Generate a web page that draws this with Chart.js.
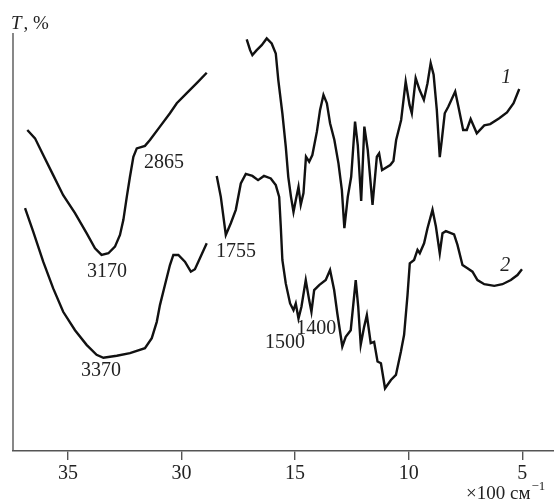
<!DOCTYPE html>
<html>
<head>
<meta charset="utf-8">
<script src="https://cdn.jsdelivr.net/npm/chart.js@4/dist/chart.umd.min.js"></script>
<style>
    html, body { margin: 0; padding: 0; background: #fff; }
</style>
</head>
<body>
<canvas id="ir-chart" width="554" height="501"></canvas>
<script>
// wavenumber in x100 cm^-1, transmittance in %
// curve 1, high wavenumber part
const nu1High = [36.79, 36.45, 36.09, 35.65, 35.21, 34.69, 34.18, 33.81, 33.52, 33.22, 32.93, 32.71, 32.56,
    32.41, 32.27, 32.12, 31.97, 31.61, 31.39, 30.95, 30.51, 30.21, 29.77, 29.33, 28.89];
const t1High = [76.8, 74.8, 70.8, 66.0, 61.2, 56.9, 52.1, 48.5, 46.9, 47.3, 48.9, 51.7, 55.3,
    60.8, 65.6, 70.4, 72.4, 73.0, 74.4, 77.6, 80.8, 83.2, 85.6, 88.0, 90.5];

// curve 1, fingerprint part
const nu1Low = [17.13, 16.98, 16.88, 16.69, 16.47, 16.25, 16.03, 15.85, 15.74, 15.56, 15.41, 15.30, 15.18,
    15.07, 14.97, 14.85, 14.75, 14.63, 14.52, 14.38, 14.24, 14.04, 13.90, 13.75, 13.60, 13.46, 13.27,
    13.09, 12.94, 12.83, 12.68, 12.53, 12.36, 12.24, 12.09, 11.95, 11.80, 11.59, 11.40, 11.30, 11.17,
    10.81, 10.67, 10.55, 10.33, 10.13, 9.96, 9.86, 9.69, 9.52, 9.33, 9.17, 9.03, 8.90, 8.76, 8.63,
    8.54, 8.41, 8.25, 7.95, 7.81, 7.60, 7.44, 7.27, 7.00, 6.67, 6.41, 6.01, 5.67, 5.38, 5.13];
const t1Low = [98.5, 95.9, 94.7, 95.9, 97.1, 98.7, 97.5, 95.1, 88.8, 80.8, 72.8, 65.6, 60.8,
    57.2, 60.0, 63.2, 58.9, 61.7, 70.4, 69.2, 70.8, 76.4, 81.6, 85.2, 83.2, 78.4, 74.4,
    68.8, 62.4, 53.3, 60.8, 65.6, 78.8, 73.2, 59.8, 77.6, 72.0, 58.9, 70.4, 71.2, 67.2,
    68.4, 69.4, 74.4, 79.2, 88.4, 82.8, 80.8, 89.2, 86.4, 84.0, 88.0, 92.8, 90.0, 81.6, 70.3,
    74.4, 80.8, 82.4, 86.0, 82.4, 76.8, 76.8, 79.4, 76.0, 77.9, 78.2, 79.6, 81.0, 83.2, 86.6];

// curve 2, high wavenumber part
const nu2High = [36.89, 36.53, 36.09, 35.65, 35.21, 34.69, 34.18, 33.74, 33.44, 32.85, 32.27, 31.61,
    31.31, 31.09, 30.95, 30.73, 30.51, 30.36, 30.14, 29.85, 29.59, 29.41, 29.19, 28.89];
const t2High = [58.1, 52.5, 45.3, 38.9, 33.3, 28.9, 25.4, 23.0, 22.3, 22.8, 23.4, 24.6,
    27.0, 30.9, 34.9, 39.7, 44.5, 46.9, 46.9, 45.3, 42.9, 43.5, 46.1, 49.7];

// curve 2, fingerprint part
const nu2Low = [18.45, 18.27, 18.05, 17.83, 17.61, 17.39, 17.17, 16.88, 16.63, 16.37, 16.07, 15.85, 15.70,
    15.63, 15.56, 15.41, 15.22, 15.07, 14.97, 14.85, 14.72, 14.53, 14.38, 14.28, 14.16, 13.94, 13.65,
    13.46, 13.28, 13.14, 12.92, 12.77, 12.55, 12.33, 12.22, 12.11, 11.96, 11.84, 11.67, 11.52, 11.37,
    11.22, 11.04, 10.78, 10.56, 10.34, 10.20, 10.05, 9.95, 9.76, 9.61, 9.51, 9.32, 9.17, 8.95, 8.80,
    8.63, 8.51, 8.36, 8.00, 7.85, 7.63, 7.41, 7.19, 6.97, 6.67, 6.23, 5.87, 5.50, 5.21, 5.01];
const t2Low = [65.8, 60.8, 51.7, 54.5, 57.7, 64.0, 66.3, 65.8, 64.8, 65.8, 65.2, 63.6, 60.8,
    53.7, 45.7, 40.1, 35.3, 33.7, 35.3, 31.7, 34.5, 40.9, 36.1, 33.3, 38.5, 39.7, 40.9,
    43.3, 38.5, 32.9, 25.0, 27.3, 28.9, 40.9, 34.5, 25.4, 29.7, 32.5, 25.8, 26.1, 21.4,
    21.0, 15.0, 17.0, 18.2, 23.8, 27.8, 37.3, 44.9, 45.7, 48.1, 47.3, 49.7, 53.3, 57.7, 53.7,
    47.3, 52.1, 52.6, 51.8, 49.3, 44.5, 43.7, 42.9, 40.9, 39.9, 39.5, 39.9, 40.9, 42.1, 43.5];

// tick labels (x100 cm^-1) and band labels
const tickNu = [35, 30, 15, 10, 5];
const bandLabels = ['2865', '3170', '3370', '1755', '1500', '1400', '1', '2'];
const bandNu = [30.77, 33.28, 33.55, 17.60, 15.44, 14.07, 5.70, 5.75];
const bandT = [68.9, 42.8, 19.1, 47.6, 25.8, 29.2, 89.2, 44.3];

// the axis is broken between 30 and 15: that part is squeezed to 5 units
const axisGap = 10;
const toAxis = nu => (nu > 20 ? nu : nu + axisGap);
const fromAxis = p => (p > 27.5 ? p : p - axisGap);

const toPoints = (nu, t) => nu.map((v, i) => ({ x: toAxis(v), y: t[i] }));

const serif = '"Liberation Serif", "DejaVu Serif", serif';

const lineStyle = {
    borderColor: '#111',
    borderWidth: 2.4,
    pointRadius: 0,
    tension: 0,
    fill: false
};

const textPlugin = {
    id: 'irTexts',
    afterDraw(chart) {
        const { ctx, chartArea, scales } = chart;
        ctx.save();
        ctx.fillStyle = '#222';

        // y axis line
        ctx.strokeStyle = '#555';
        ctx.lineWidth = 1.4;
        ctx.beginPath();
        ctx.moveTo(chartArea.left, chartArea.top);
        ctx.lineTo(chartArea.left, chartArea.bottom);
        ctx.stroke();

        // band labels
        ctx.textAlign = 'center';
        ctx.textBaseline = 'middle';
        bandLabels.forEach((label, i) => {
            const italic = label.length === 1;
            ctx.font = (italic ? 'italic ' : '') + '20px ' + serif;
            ctx.fillText(label, scales.x.getPixelForValue(toAxis(bandNu[i])), scales.y.getPixelForValue(bandT[i]));
        });

        // y title
        ctx.textAlign = 'left';
        ctx.textBaseline = 'alphabetic';
        ctx.font = 'italic 19px ' + serif;
        ctx.fillText('T', 11, 29);
        ctx.font = '19px ' + serif;
        ctx.fillText(', %', 11 + ctx.measureText('T').width + 1, 29);

        // x title
        ctx.font = '19px ' + serif;
        const main = '×100 см';
        ctx.fillText(main, 466, 499);
        const w = ctx.measureText(main).width;
        ctx.font = '13px ' + serif;
        ctx.fillText('−1', 466 + w + 1, 490);
        ctx.restore();
    }
};

const chart = new Chart(document.getElementById('ir-chart'), {
    type: 'line',
    data: {
        datasets: [
            { ...lineStyle, data: toPoints(nu1High, t1High) },
            { ...lineStyle, data: toPoints(nu1Low, t1Low) },
            { ...lineStyle, data: toPoints(nu2High, t2High) },
            { ...lineStyle, data: toPoints(nu2Low, t2Low) }
        ]
    },
    options: {
        responsive: false,
        animation: false,
        layout: { padding: { left: 13, top: 33, right: 0, bottom: 0 } },
        plugins: {
            legend: { display: false },
            tooltip: { enabled: false }
        },
        scales: {
            x: {
                type: 'linear',
                reverse: true,
                min: 13.6,
                max: 37.42,
                afterBuildTicks: scale => {
                    scale.ticks = tickNu.map(v => ({ value: toAxis(v) }));
                },
                afterFit: scale => { scale.height = 50; },
                ticks: {
                    autoSkip: false,
                    maxRotation: 0,
                    padding: 2,
                    color: '#222',
                    font: { family: serif, size: 20 },
                    callback: value => String(Math.round(fromAxis(value)))
                },
                grid: {
                    drawOnChartArea: false,
                    drawTicks: true,
                    tickLength: 9,
                    color: '#555',
                    lineWidth: 1.4
                },
                border: { display: true, color: '#555', width: 1.4 }
            },
            y: {
                display: false,
                min: 0,
                max: 100
            }
        }
    },
    plugins: [textPlugin]
});
</script>
</body>
</html>
